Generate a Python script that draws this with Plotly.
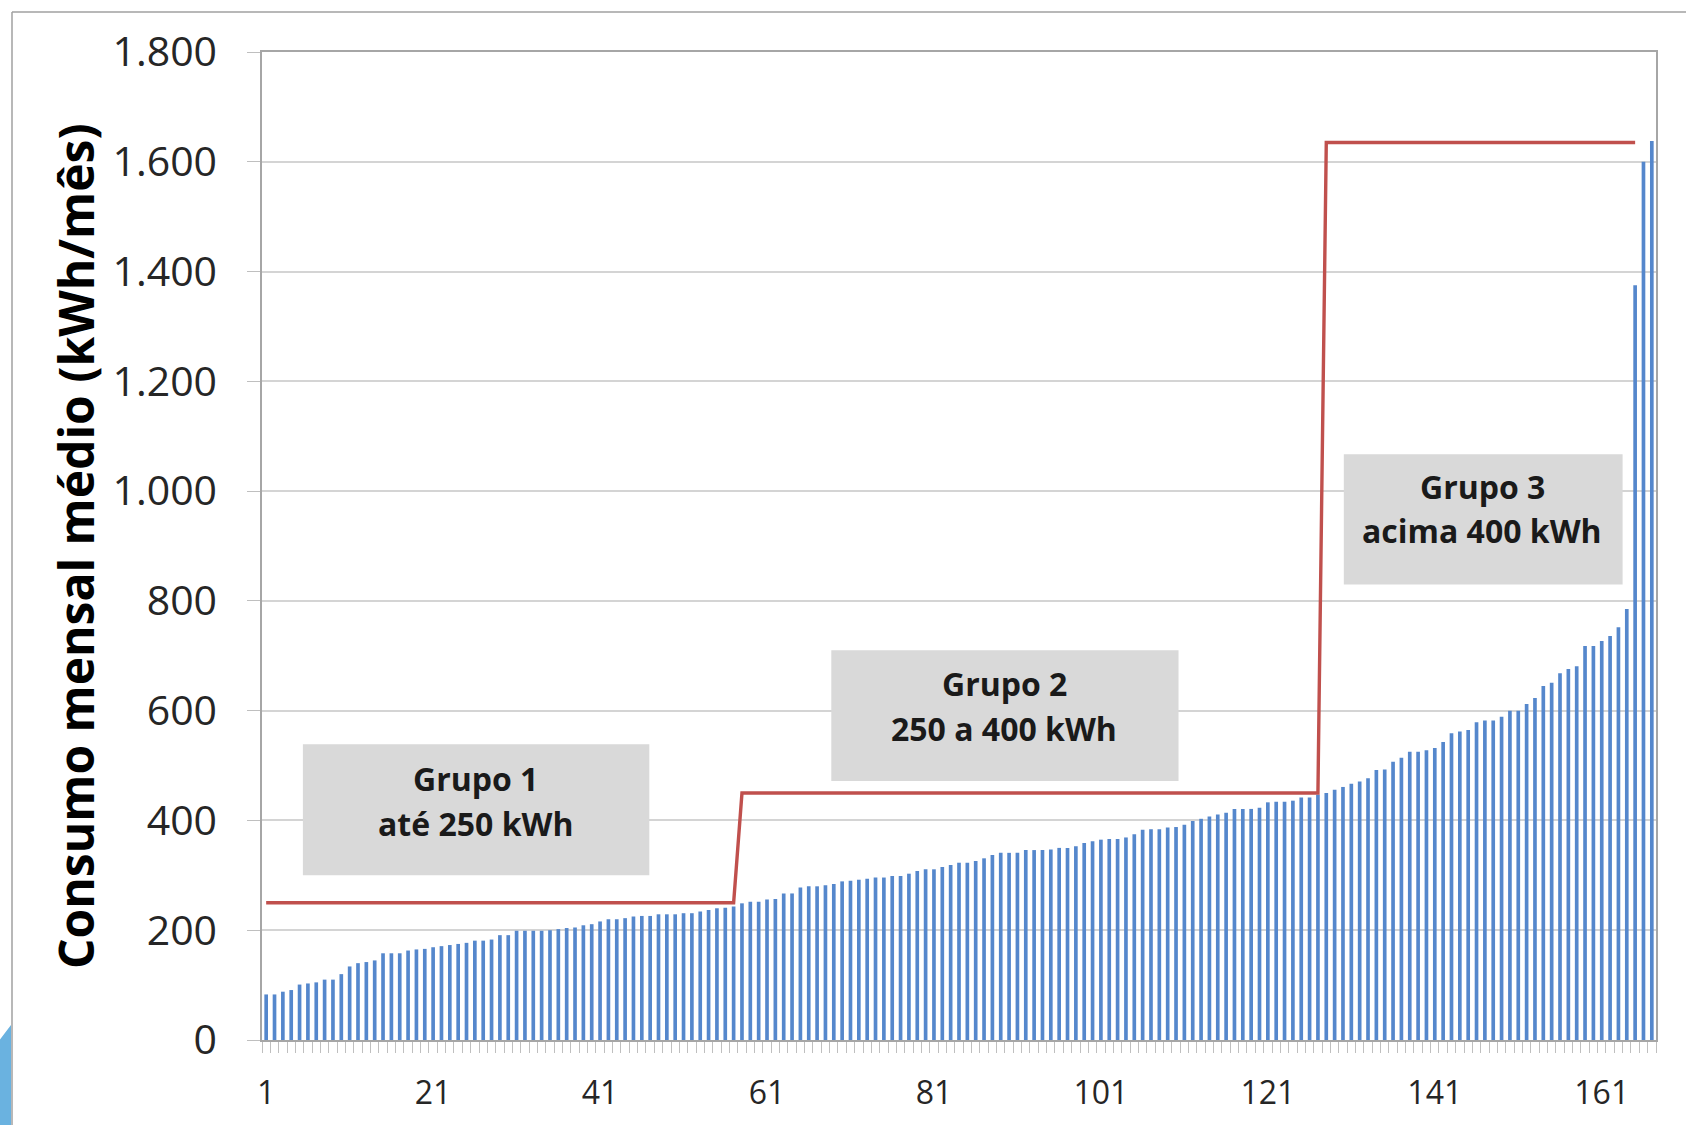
import plotly.graph_objects as go

# ---- data ----
consumo = [
    83, 83, 88, 91, 101, 103, 105, 110, 110, 120, 134, 140, 142, 145, 158, 158, 158, 163, 165, 166,
    169, 171, 173, 175, 177, 181, 181, 183, 191, 191, 199, 199, 199, 199, 200, 202, 204, 205, 209, 211,
    216,
    220, 220, 222, 225, 226, 226, 229, 229, 229, 231,
    231, 234, 237, 240, 241, 243, 249, 252, 252, 256,
    257, 267, 267, 278, 280, 280, 282, 284, 289, 290,
    292, 294, 296, 296, 299, 299, 303, 308, 311, 311,
    315, 319, 323, 323, 326, 331, 337, 341, 341, 341,
    346, 346, 346, 347, 350, 350, 353, 359, 362, 365,
    366, 366, 369, 375, 383, 384, 384, 387, 388, 392,
    399, 403, 407, 411, 414, 421, 421, 421, 423, 433,
    434, 434, 436, 442, 442, 447, 450, 456, 461, 467,
    471, 477, 492, 493, 507, 514, 525, 525, 528, 532,
    543, 559, 562, 565, 579, 582, 582, 589, 600, 600,
    612, 623, 645, 651, 668, 676, 681, 718, 718, 727,
    736, 752, 785, 1375, 1600, 1638,
]
indices = list(range(1, len(consumo) + 1))

limite_x = [1, 57, 58, 127, 128, 165]
limite_y = [250, 250, 450, 450, 1635, 1635]

x_ticks = [1, 21, 41, 61, 81, 101, 121, 141, 161]
y_ticks = [0, 200, 400, 600, 800, 1000, 1200, 1400, 1600, 1800]
y_labels = ["0", "200", "400", "600", "800", "1.000", "1.200", "1.400", "1.600", "1.800"]

grupos_l1 = ["Grupo 1", "Grupo 2", "Grupo 3"]
grupos_l2 = ["até 250 kWh", "250 a 400 kWh", "acima 400 kWh"]
grupos_box = [(5.4, 46.9, 300, 539), (68.7, 110.3, 472, 710), (130.1, 163.5, 830, 1067)]
grupos_cx = [26.1, 89.4, 146.7]
grupos_y1 = [476, 650, 1009]
grupos_y2 = [394, 568, 928]

W, H = 1686, 1125
L, R, T, B = 262, 30, 52, 82
PW, PH = W - L - R, H - T - B


def px(x):
    return (x - L) / PW


def py(y):
    return (H - B - y) / PH


fig = go.Figure()
fig.add_trace(go.Bar(
    x=indices, y=consumo, width=0.44,
    marker=dict(color="#5587CC", line=dict(width=0)),
    showlegend=False,
))
fig.add_trace(go.Scatter(
    x=limite_x, y=limite_y, mode="lines",
    line=dict(color="#C0504D", width=3.4),
    showlegend=False,
))

shapes = []
for (x0, x1, y0, y1) in grupos_box:
    shapes.append(dict(type="rect", xref="x", yref="y", x0=x0, x1=x1, y0=y0, y1=y1,
                       fillcolor="#D9D9D9", line=dict(width=0), layer="above"))
# slide frame
shapes.append(dict(type="line", xref="paper", yref="paper", x0=px(12), x1=px(W + 5), y0=py(12), y1=py(12),
                   line=dict(color="#A0A0A0", width=1.5)))
shapes.append(dict(type="line", xref="paper", yref="paper", x0=px(12), x1=px(12), y0=py(12), y1=py(H + 5),
                   line=dict(color="#A0A0A0", width=1.5)))
# decorative blue shape bottom-left
path = "M {} {} Q {} {} {} {} L {} {} L {} {} Z".format(
    px(-2), py(1045), px(5), py(1036), px(11), py(1028), px(11), py(H + 5), px(-2), py(H + 5))
shapes.append(dict(type="path", xref="paper", yref="paper", path=path,
                   fillcolor="#6AB2E0", line=dict(width=0)))

annotations = []
for t1, t2, cx, y1, y2 in zip(grupos_l1, grupos_l2, grupos_cx, grupos_y1, grupos_y2):
    for txt, yy in ((t1, y1), (t2, y2)):
        annotations.append(dict(x=cx, y=yy, xref="x", yref="y", text="<b>" + txt + "</b>", showarrow=False,
                                font=dict(family="Open Sans", size=32, color="#1a1a1a"),
                                xanchor="center", yanchor="middle"))
annotations.append(dict(x=px(75), y=0.5, xref="paper", yref="paper",
                        text="<b>Consumo mensal médio (kWh/mês)</b>", textangle=-90,
                        showarrow=False, font=dict(family="Open Sans", size=48, color="#000000"),
                        xanchor="center", yanchor="middle"))

fig.update_layout(
    width=W, height=H,
    margin=dict(l=L, r=R, t=T, b=B),
    paper_bgcolor="white", plot_bgcolor="white",
    shapes=shapes, annotations=annotations,
)
fig.update_xaxes(
    range=[0.5, len(consumo) + 0.5],
    tickvals=x_ticks, ticktext=[str(v) for v in x_ticks],
    ticks="", showgrid=False,
    tickfont=dict(family="Open Sans", size=32, color="#262626"),
    ticklabelstandoff=24,
    showline=True, linecolor="#A6A6A6", linewidth=1.5, mirror=True,
    minor=dict(tick0=0.5, dtick=1, ticks="outside", ticklen=11, tickcolor="#BFBFBF", tickwidth=1.3, showgrid=False),
    zeroline=False,
)
fig.update_yaxes(
    range=[0, 1800],
    tickvals=y_ticks, ticktext=y_labels,
    ticks="outside", ticklen=13, tickcolor="#BFBFBF", tickwidth=1.3,
    showgrid=True, gridcolor="#D4D4D4", gridwidth=1.5,
    tickfont=dict(family="Open Sans", size=41, color="#262626"),
    ticklabelstandoff=22,
    showline=True, linecolor="#A6A6A6", linewidth=1.5, mirror=True,
    zeroline=False,
)

fig.write_html("out.html", config={"displayModeBar": False},
               post_script="document.body.style.margin='0px';document.body.style.overflow='hidden';")
